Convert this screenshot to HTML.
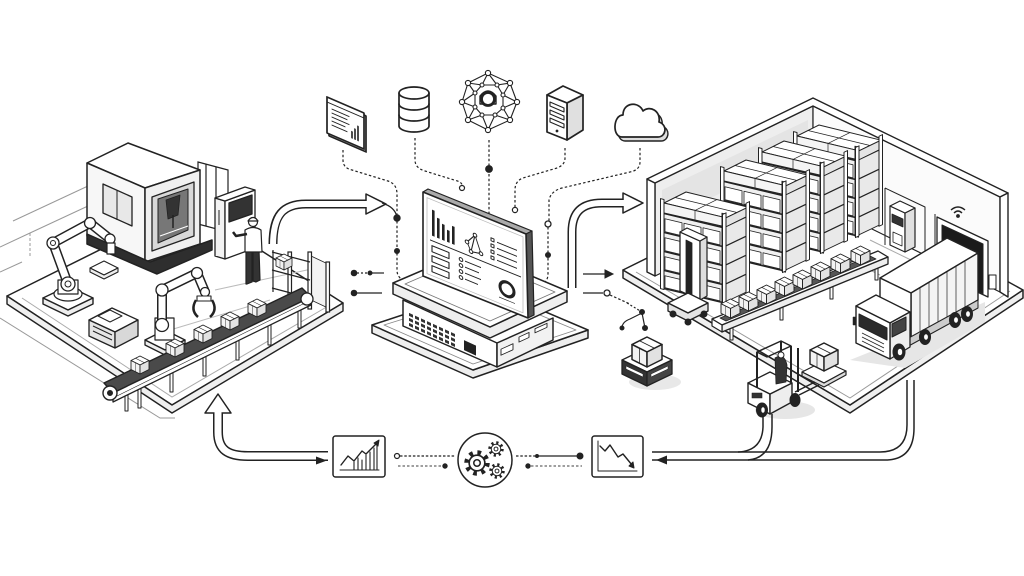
<!DOCTYPE html>
<html><head><meta charset="utf-8">
<style>html,body{margin:0;padding:0;background:#fff}svg{display:block}</style>
</head>
<body>
<svg width="1024" height="576" viewBox="0 0 1024 576" xmlns="http://www.w3.org/2000/svg" font-family="Liberation Sans, sans-serif">
<defs>
 <g id="cube" stroke="#222" stroke-width="1" stroke-linejoin="round">
  <polygon points="0,5 10,0 20,5 10,10" fill="#fff"/>
  <polygon points="0,5 10,10 10,20 0,15" fill="#f3f3f3"/>
  <polygon points="10,10 20,5 20,15 10,20" fill="#e2e2e2"/>
  <line x1="5" y1="2.5" x2="15" y2="7.5" stroke-width="0.6"/>
  <line x1="5" y1="7.5" x2="5" y2="17.5" stroke-width="0.5"/>
 </g>
 <g id="rack" stroke="#222" stroke-linejoin="round">
  <polygon points="2,-10 64,4.8 86,-5.8 24,-21" fill="#fff" stroke-width="1"/>
  <polygon points="2,-10 64,4.8 64,14 2,0" fill="#f4f4f4" stroke-width="1"/>
  <polygon points="64,4.8 86,-5.8 86,3 64,14" fill="#e4e4e4" stroke-width="1"/>
  <line x1="33" y1="-2.6" x2="55" y2="-13.4" stroke-width="0.7"/>
  <line x1="13" y1="-15.5" x2="75" y2="-0.5" stroke-width="0.7"/>
  <line x1="33" y1="-2.6" x2="33" y2="7" stroke-width="0.7"/>
  <g transform="skewY(13.4)">
   <rect x="0" y="0" width="62" height="75" fill="#f0f0f0" stroke-width="1"/>
   <g fill="#fff" stroke-width="0.8">
    <rect x="3" y="5" width="17" height="13"/><rect x="22" y="5" width="17" height="13"/><rect x="41" y="5" width="17" height="13"/>
    <rect x="3" y="24" width="17" height="13"/><rect x="22" y="24" width="17" height="13"/><rect x="41" y="24" width="17" height="13"/>
    <rect x="3" y="43" width="17" height="13"/><rect x="22" y="43" width="17" height="13"/><rect x="41" y="43" width="17" height="13"/>
    <rect x="3" y="62" width="17" height="12"/><rect x="22" y="62" width="17" height="12"/><rect x="41" y="62" width="17" height="12"/>
   </g>
   <g stroke-width="1.6">
    <line x1="0" y1="0" x2="62" y2="0"/><line x1="0" y1="19" x2="62" y2="19"/>
    <line x1="0" y1="38" x2="62" y2="38"/><line x1="0" y1="57" x2="62" y2="57"/>
    <line x1="0" y1="75" x2="62" y2="75"/>
   </g>
   <rect x="-1.5" y="-14" width="3.5" height="90" fill="#fff" stroke-width="1"/>
   <rect x="60" y="-14" width="3.5" height="90" fill="#fff" stroke-width="1"/>
  </g>
  <g transform="translate(62,14.8) skewY(-25.6)">
   <rect x="0" y="0" width="24" height="75" fill="#e9e9e9" stroke-width="1"/>
   <g stroke-width="1.3">
    <line x1="0" y1="19" x2="24" y2="19"/><line x1="0" y1="38" x2="24" y2="38"/><line x1="0" y1="57" x2="24" y2="57"/>
   </g>
   <rect x="22" y="-14" width="3.5" height="90" fill="#fff" stroke-width="1"/>
   <rect x="-1.5" y="-14" width="3.5" height="90" fill="#fff" stroke-width="1"/>
  </g>
 </g>
 <g id="gear">
  <circle r="7.5" fill="none" stroke="#222" stroke-width="3.2" stroke-dasharray="2.6 3.3"/>
  <circle r="5.6" fill="#fff" stroke="#222" stroke-width="1.2"/>
  <circle r="2.3" fill="#fff" stroke="#222" stroke-width="1.1"/>
 </g>
</defs>

<rect width="1024" height="576" fill="#fff"/>

<!-- ================= LEFT FACTORY ================= -->
<g stroke="#999" stroke-width="1" fill="none">
 <path d="M13,221 L88,186"/>
 <path d="M0,247 L30,233 L88,206"/>
 <path d="M30,233 V258" stroke-dasharray="3 2"/>
 <path d="M0,272 L22,262"/>
 <path d="M0,318 L160,418 L175,418"/>
</g>
<polygon points="7,296 172,405 343,303 190,205" fill="#fff" stroke="#222" stroke-width="1.5" stroke-linejoin="round"/>
<polygon points="7,296 172,405 343,303 343,311 172,413 7,304" fill="#efefef" stroke="#222" stroke-width="1.4" stroke-linejoin="round"/>
<polyline points="22,298 172,397 330,305" fill="none" stroke="#aaa" stroke-width="1"/>
<path d="M215,290 L330,265 M170,330 L270,300" stroke="#bbb" stroke-width="1" fill="none"/>

<g stroke="#222" stroke-width="1.2" fill="#fff">
 <polygon points="198,162 228,170 228,232 198,224"/>
 <line x1="206" y1="164" x2="206" y2="226"/><line x1="216" y1="167" x2="216" y2="229"/>
</g>
<g stroke="#222" stroke-width="1.5" stroke-linejoin="round">
 <polygon points="87,163 128,143 200,170 145,188" fill="#fff"/>
 <polygon points="87,163 145,188 145,262 87,236" fill="#f7f7f7"/>
 <polygon points="145,188 200,170 200,244 145,262" fill="#f0f0f0"/>
 <polygon points="87,234 150,262 212,240 212,250 157,274 87,244" fill="#2e2e2e"/>
 <polygon points="103,184 132,197 132,226 103,213" fill="#e8e8e8" stroke-width="1.3"/>
 <line x1="117" y1="190" x2="117" y2="220" stroke-width="1"/>
 <polygon points="152,197 194,182 194,236 152,251" fill="#d8d8d8" stroke-width="1.3"/>
 <polygon points="158,199 188,189 188,230 158,243" fill="#777" stroke-width="1"/>
 <polygon points="166,200 180,195 178,215 168,219" fill="#333" stroke-width="0.8"/>
 <line x1="173" y1="215" x2="173" y2="228" stroke-width="1.5"/>
 <line x1="160" y1="236" x2="188" y2="226" stroke="#fff" stroke-width="1"/>
</g>
<g stroke="#222" stroke-width="1.3" stroke-linejoin="round">
 <polygon points="215,198 225,201 225,259 215,256" fill="#f2f2f2"/>
 <polygon points="225,201 255,190 255,248 225,259" fill="#fff"/>
 <polygon points="215,198 245,187 255,190 225,201" fill="#fff"/>
 <polygon points="229,203 252,195 252,214 229,222" fill="#333"/>
 <line x1="219" y1="210" x2="219" y2="225" stroke-width="1"/>
</g>
<g stroke="#222" stroke-width="1.2" stroke-linejoin="round">
 <polygon points="246,250 252,252 252,282 247,284 246,284" fill="#333"/>
 <polygon points="253,252 259,250 260,280 256,282 253,281" fill="#333"/>
 <path d="M245,230 Q253,225 261,230 L262,252 L245,252 Z" fill="#fff"/>
 <path d="M247,234 L236,236 L233,232" fill="none" stroke-width="2.5"/>
 <circle cx="253" cy="222" r="4.5" fill="#fff"/>
 <path d="M248,221 Q253,214 258,221 Z" fill="#fff"/>
</g>
<g stroke="#222" stroke-linejoin="round">
 <polygon points="43,298 68,286 93,298 68,310" fill="#fff" stroke-width="1.4"/>
 <polygon points="43,298 68,310 93,298 93,304 68,316 43,304" fill="#eee" stroke-width="1.4"/>
 <ellipse cx="68" cy="294" rx="14" ry="7" fill="#fff" stroke-width="1.2"/>
 <rect x="58" y="280" width="20" height="14" fill="#fff" stroke-width="1.2"/>
 <path d="M68,284 L53,243 L90,223 L110,239" fill="none" stroke-width="10" stroke-linecap="round"/>
 <path d="M68,284 L53,243 L90,223 L110,239" fill="none" stroke="#fff" stroke-width="7" stroke-linecap="round"/>
 <circle cx="68" cy="284" r="7" fill="#fff" stroke-width="1.3"/><circle cx="68" cy="284" r="3" fill="#fff" stroke-width="1"/>
 <circle cx="53" cy="243" r="6" fill="#fff" stroke-width="1.3"/><circle cx="53" cy="243" r="2.5" fill="#fff" stroke-width="1"/>
 <circle cx="90" cy="223" r="5.5" fill="#fff" stroke-width="1.3"/>
 <circle cx="110" cy="239" r="5" fill="#fff" stroke-width="1.3"/>
 <rect x="107" y="243" width="8" height="11" fill="#fff" stroke-width="1.2"/>
</g>
<g stroke="#222" stroke-width="1.1" stroke-linejoin="round">
 <polygon points="90,268 104,261 118,268 104,275" fill="#fff"/>
 <polygon points="90,268 104,275 118,268 118,272 104,279 90,272" fill="#eee"/>
</g>
<g stroke="#222" stroke-width="1.3" stroke-linejoin="round">
 <polygon points="89,320 112,308 138,320 115,332" fill="#fff"/>
 <polygon points="89,320 115,332 115,348 89,336" fill="#e5e5e5"/>
 <polygon points="115,332 138,320 138,336 115,348" fill="#d8d8d8"/>
 <path d="M93,326 L112,335 M93,331 L112,340" stroke-width="1"/>
 <polygon points="98,316 110,310 122,316 110,322" fill="#fff" stroke-width="1"/>
</g>
<g stroke="#222" stroke-linejoin="round">
 <polygon points="145,340 165,330 185,340 165,350" fill="#fff" stroke-width="1.4"/>
 <polygon points="145,340 165,350 185,340 185,345 165,355 145,345" fill="#eee" stroke-width="1.3"/>
 <rect x="155" y="318" width="19" height="22" fill="#fff" stroke-width="1.2"/>
 <path d="M162,325 L162,290 L197,273 L205,292" fill="none" stroke-width="10" stroke-linecap="round"/>
 <path d="M162,325 L162,290 L197,273 L205,292" fill="none" stroke="#fff" stroke-width="7" stroke-linecap="round"/>
 <circle cx="162" cy="325" r="6.5" fill="#fff" stroke-width="1.3"/>
 <circle cx="162" cy="290" r="6" fill="#fff" stroke-width="1.3"/>
 <circle cx="197" cy="273" r="5.5" fill="#fff" stroke-width="1.3"/>
 <circle cx="205" cy="292" r="4.5" fill="#fff" stroke-width="1.3"/>
 <path d="M196,300 Q190,310 198,317 M212,300 Q218,310 210,317" fill="none" stroke-width="2.5"/>
 <rect x="197" y="296" width="14" height="5" fill="#fff" stroke-width="1.1"/>
</g>
<g stroke="#222" stroke-width="1.2" fill="none">
 <polygon points="311,256 328,264 328,308 311,300" fill="#f3f3f3" stroke-width="0.8"/>
 <rect x="288" y="252" width="3.5" height="52" fill="#fff"/>
 <rect x="308" y="252" width="3.5" height="57" fill="#fff"/>
 <rect x="326" y="262" width="3.5" height="50" fill="#fff"/>
 <path d="M272,252 L310,262 M272,270 L310,280 M272,288 L310,298"/>
 <line x1="273" y1="250" x2="273" y2="292"/>
 <use href="#cube" transform="translate(276,254) scale(0.8)"/>
</g>
<g stroke="#222" stroke-linejoin="round">
 <g fill="#fff" stroke-width="1">
  <rect x="138" y="388" width="3" height="20"/><rect x="170" y="372" width="3" height="20"/>
  <rect x="203" y="356" width="3" height="20"/><rect x="236" y="340" width="3" height="20"/>
  <rect x="268" y="325" width="3" height="20"/><rect x="298" y="310" width="3" height="18"/>
  <rect x="125" y="395" width="3" height="16"/>
 </g>
 <polygon points="104,383 302,288 311,297 113,393" fill="#4a4a4a" stroke-width="1.4"/>
 <polygon points="113,393 311,297 311,305 113,402" fill="#fff" stroke-width="1.3"/>
 <line x1="115" y1="397" x2="309" y2="301" stroke-width="0.6"/>
 <circle cx="110" cy="393" r="7" fill="#fff" stroke-width="1.4"/>
 <circle cx="110" cy="393" r="2.5" fill="#222"/>
 <circle cx="307" cy="299" r="6" fill="#fff" stroke-width="1.3"/>
</g>
<use href="#cube" transform="translate(131,356) scale(0.9)"/>
<use href="#cube" transform="translate(166,339) scale(0.9)"/>
<use href="#cube" transform="translate(194,325) scale(0.9)"/>
<use href="#cube" transform="translate(221,312) scale(0.9)"/>
<use href="#cube" transform="translate(248,299) scale(0.9)"/>

<!-- ================= ARROWS ================= -->
<g fill="none" stroke-linecap="butt">
 <path d="M273,244 C273,215 283,204 306,204 L368,204" stroke="#222" stroke-width="9"/>
 <path d="M273,246 C273,215 283,204 306,204 L369,204" stroke="#fff" stroke-width="6"/>
 <path d="M572,288 L572,232 C572,212 582,203 602,203 L625,203" stroke="#222" stroke-width="9"/>
 <path d="M572,290 L572,232 C572,212 582,203 602,203 L626,203" stroke="#fff" stroke-width="6"/>
 <path d="M218,413 L218,432 C218,450 228,456 248,456 L328,456" stroke="#222" stroke-width="10"/>
 <path d="M218,411 L218,432 C218,450 228,456 248,456 L330,456" stroke="#fff" stroke-width="7"/>
</g>
<polygon points="366,194 386,204 366,214" fill="#fff" stroke="#222" stroke-width="1.5" stroke-linejoin="round"/>
<line x1="364" y1="204" x2="368" y2="204" stroke="#fff" stroke-width="6"/>
<polygon points="623,193 643,203 623,213" fill="#fff" stroke="#222" stroke-width="1.5" stroke-linejoin="round"/>
<line x1="621" y1="203" x2="625" y2="203" stroke="#fff" stroke-width="6"/>
<polygon points="205,413 218,394 231,413" fill="#fff" stroke="#222" stroke-width="1.5" stroke-linejoin="round"/>
<line x1="218" y1="411" x2="218" y2="415" stroke="#fff" stroke-width="7"/>
<polygon points="316,456.5 327,460.5 316,464.5" fill="#222"/>
<path d="M382,203 Q395,207 397,217" fill="none" stroke="#222" stroke-width="1.2"/>

<!-- ================= TOP ICONS ================= -->
<g stroke="#222" stroke-width="1.7" fill="#fff" stroke-linejoin="round" stroke-linecap="round">
 <g transform="translate(327,97) skewY(23.4)">
  <rect x="2" y="2" width="37" height="36" fill="#cfcfcf"/>
  <rect x="0" y="0" width="37" height="36"/>
  <line x1="0" y1="5" x2="37" y2="5" stroke-width="1"/>
  <g stroke-width="1"><line x1="5" y1="10" x2="22" y2="10"/><line x1="5" y1="14" x2="20" y2="14"/><line x1="5" y1="18" x2="22" y2="18"/><line x1="5" y1="22" x2="18" y2="22"/><line x1="5" y1="26" x2="20" y2="26"/></g>
  <g stroke-width="1.6"><line x1="25" y1="30" x2="25" y2="24"/><line x1="28" y1="30" x2="28" y2="20"/><line x1="31" y1="30" x2="31" y2="16"/></g>
 </g>
 <path d="M399,93 V126 A15,6 0 0 0 429,126 V93"/>
 <ellipse cx="414" cy="93" rx="15" ry="6"/>
 <path d="M399,104 A15,6 0 0 0 429,104 M399,115 A15,6 0 0 0 429,115" fill="none"/>
 <g stroke-width="1.1" fill="none">
  <polygon points="488,73 510,83 517,102 510,120 488,130 468,120 462,102 468,83"/>
  <polygon points="482,85 497,85 503,95 503,108 495,115 482,115 475,107 475,93"/>
  <path d="M488,73 L482,85 M488,73 L497,85 M510,83 L497,85 M510,83 L503,95 M517,102 L503,95 M517,102 L503,108 M510,120 L503,108 M510,120 L495,115 M488,130 L495,115 M488,130 L482,115 M468,120 L482,115 M468,120 L475,107 M462,102 L475,107 M462,102 L475,93 M468,83 L475,93 M468,83 L482,85"/>
 </g>
 <g stroke-width="1.1">
  <circle cx="488" cy="73" r="2.6"/><circle cx="510" cy="83" r="2.6"/><circle cx="517" cy="102" r="2.6"/><circle cx="510" cy="120" r="2.6"/>
  <circle cx="488" cy="130" r="2.6"/><circle cx="468" cy="120" r="2.6"/><circle cx="462" cy="102" r="2.6"/><circle cx="468" cy="83" r="2.6"/>
  <circle cx="482" cy="85" r="2"/><circle cx="497" cy="85" r="2"/><circle cx="503" cy="95" r="2"/><circle cx="503" cy="108" r="2"/>
  <circle cx="495" cy="115" r="2"/><circle cx="482" cy="115" r="2"/><circle cx="475" cy="107" r="2"/><circle cx="475" cy="93" r="2"/>
 </g>
 <path d="M480,96 Q488,86 496,96 L496,104 L480,104 Z" stroke-width="1.4"/>
 <circle cx="488" cy="99" r="6.5" stroke-width="2.8"/>
 <polygon points="547,95 563,86 583,95 567,103"/>
 <polygon points="567,103 583,95 583,130 567,140" fill="#e0e0e0"/>
 <polygon points="547,95 567,103 567,140 547,132"/>
 <g stroke-width="1.1"><polygon points="550,102 564,108 564,112 550,106"/><polygon points="550,110 564,116 564,120 550,114"/><polygon points="550,118 564,124 564,128 550,122"/></g>
 <circle cx="557" cy="131" r="1.2" fill="#222" stroke-width="0.5"/>
 <path d="M625,141 H661 C669,141 671,129 662,126 C664,115 653,109 646,115 C642,105 626,106 626,119 C616,119 615,141 625,141 Z" fill="#ddd" stroke-width="1.4"/>
 <path d="M622,137 H658 C666,137 668,125 659,122 C661,111 650,105 643,111 C639,101 623,102 623,115 C613,115 612,137 622,137 Z"/>
</g>

<g fill="none" stroke="#222" stroke-width="1.2" stroke-dasharray="2.5 2.2">
 <path d="M343,150 V160 Q343,168 352,170 L388,181 Q397,184 397,194 V215"/>
 <path d="M397,221 V248"/>
 <path d="M397,253 V270 Q397,278 405,281"/>
 <path d="M415,138 V160 Q415,168 425,171 L454,180 Q462,182 462,185"/>
 <path d="M489,140 V166"/>
 <path d="M489,174 V214"/>
 <path d="M565,148 V158 Q565,165 557,168 L523,178 Q515,181 515,190 V207"/>
 <path d="M640,148 V162 Q640,170 630,172 L562,188 Q551,191 549,200 V221"/>
 <path d="M548,227 V252"/>
 <path d="M548,258 V274 Q548,281 542,284"/>
</g>
<g stroke="#222">
 <circle cx="397" cy="218" r="3.2" fill="#222"/>
 <circle cx="397" cy="251" r="2.5" fill="#222"/>
 <circle cx="462" cy="188" r="2.5" fill="#fff" stroke-width="1.2"/>
 <circle cx="489" cy="169" r="3.4" fill="#222"/>
 <circle cx="515" cy="210" r="2.6" fill="#fff" stroke-width="1.2"/>
 <circle cx="548" cy="224" r="3" fill="#fff" stroke-width="1.3"/>
 <circle cx="548" cy="255" r="2.5" fill="#222"/>
</g>

<g stroke="#222" stroke-width="1.2" fill="none">
 <path d="M357,273 H368" stroke-dasharray="2 2"/>
 <path d="M370,273 H384"/>
 <path d="M357,293 H382"/>
 <path d="M583,274 H606"/>
 <path d="M583,293 H603"/>
 <path d="M610,295 L630,304" stroke-dasharray="2.5 2"/>
 <path d="M642,313 L630,319 Q622,322 622,328 M642,313 L645,328"/>
 <path d="M627,303 L642,312" stroke-dasharray="2 2"/>
</g>
<g stroke="#222">
 <circle cx="354" cy="273" r="2.8" fill="#222"/>
 <circle cx="370" cy="273" r="2" fill="#222"/>
 <circle cx="354" cy="293" r="2.8" fill="#222"/>
 <polygon points="605,270 613,274 605,278" fill="#222"/>
 <circle cx="607" cy="293" r="3" fill="#fff" stroke-width="1.3"/>
 <circle cx="642" cy="312" r="2.5" fill="#222"/>
 <circle cx="622" cy="328" r="2" fill="#222"/>
 <circle cx="645" cy="328" r="2.5" fill="#222"/>
</g>

<!-- ================= CENTER HUB ================= -->
<g stroke="#222" stroke-linejoin="round">
 <polygon points="372,325 473,370 588,330 588,338 473,378 372,333" fill="#eee" stroke-width="1.5"/>
 <polygon points="372,325 473,370 588,330 487,287" fill="#fff" stroke-width="1.5"/>
 <polygon points="384,325 473,364 576,330 487,293" fill="none" stroke="#888" stroke-width="0.9"/>
 <polygon points="403,300 497,343 497,367 403,326" fill="#fff" stroke-width="1.5"/>
 <polygon points="497,343 553,318 553,340 497,367" fill="#f2f2f2" stroke-width="1.5"/>
 <g transform="translate(407,310) skewY(24.6)" fill="#333" stroke="none">
  <rect x="2" y="2" width="4" height="3"/><rect x="8" y="2" width="4" height="3"/><rect x="14" y="2" width="4" height="3"/><rect x="20" y="2" width="4" height="3"/><rect x="26" y="2" width="4" height="3"/><rect x="32" y="2" width="4" height="3"/><rect x="38" y="2" width="4" height="3"/><rect x="44" y="2" width="4" height="3"/>
  <rect x="2" y="7" width="4" height="3"/><rect x="8" y="7" width="4" height="3"/><rect x="14" y="7" width="4" height="3"/><rect x="20" y="7" width="4" height="3"/><rect x="26" y="7" width="4" height="3"/><rect x="32" y="7" width="4" height="3"/><rect x="38" y="7" width="4" height="3"/><rect x="44" y="7" width="4" height="3"/>
  <rect x="2" y="12" width="4" height="3"/><rect x="8" y="12" width="4" height="3"/><rect x="14" y="12" width="4" height="3"/><rect x="20" y="12" width="4" height="3"/><rect x="26" y="12" width="4" height="3"/><rect x="32" y="12" width="4" height="3"/><rect x="38" y="12" width="4" height="3"/><rect x="44" y="12" width="4" height="3"/>
  <rect x="57" y="4" width="12" height="10" fill="#222"/>
 </g>
 <g transform="translate(497,343) skewY(-24.4)" stroke-width="0.9" fill="#fff">
  <rect x="4" y="8" width="12" height="6"/><rect x="22" y="4" width="10" height="5"/><rect x="38" y="3" width="12" height="4"/>
 </g>
 <polygon points="393,283 490,327 567,291 567,302 490,338 393,294" fill="#eee" stroke-width="1.5"/>
 <polygon points="393,283 490,327 567,291 470,250" fill="#fff" stroke-width="1.5"/>
 <polygon points="405,284 490,321 555,292 470,256" fill="none" stroke="#777" stroke-width="0.9"/>
 <polygon points="423,192 428,189 532,231 526,234" fill="#aaa" stroke-width="1.2"/>
 <polygon points="526,234 532,231 534,315 528,318" fill="#555" stroke-width="1.2"/>
 <polygon points="423,192 526,234 528,318 423,276" fill="#fff" stroke-width="1.6"/>
 <g transform="translate(423,192) skewY(22.2)">
  <rect x="4" y="4" width="96" height="76" fill="none" stroke="#bbb" stroke-width="0.8"/>
  <g fill="#222" stroke="none">
   <rect x="9" y="14" width="2.6" height="26"/><rect x="14" y="20" width="2.6" height="20"/><rect x="19" y="24" width="2.6" height="16"/><rect x="24" y="28" width="2.6" height="12"/><rect x="29" y="22" width="2.6" height="18"/>
  </g>
  <line x1="7" y1="45" x2="98" y2="45" stroke="#222" stroke-width="1"/>
  <g stroke="#222" stroke-width="1" fill="#fff">
   <path d="M44,32 L52,22 L58,38 L48,40 Z M52,22 L48,40"/>
   <circle cx="44" cy="32" r="1.8"/><circle cx="52" cy="22" r="1.8"/><circle cx="58" cy="38" r="1.8"/><circle cx="48" cy="40" r="1.8"/>
   <rect x="9" y="50" width="17" height="6" stroke-width="1.1"/><rect x="9" y="60" width="17" height="6" stroke-width="1.1"/><rect x="9" y="70" width="17" height="6" stroke-width="1.1"/>
   <circle cx="38" cy="52" r="1.8"/><circle cx="38" cy="58" r="1.8"/><circle cx="38" cy="64" r="1.8"/><circle cx="38" cy="70" r="1.8"/>
   <line x1="42" y1="52" x2="58" y2="52"/><line x1="42" y1="58" x2="56" y2="58"/><line x1="42" y1="64" x2="58" y2="64"/><line x1="42" y1="70" x2="55" y2="70"/>
   <line x1="74" y1="20" x2="94" y2="20"/><line x1="74" y1="26" x2="94" y2="26"/><line x1="74" y1="32" x2="94" y2="32"/><line x1="74" y1="38" x2="94" y2="38"/>
   <rect x="68" y="18" width="3" height="3"/><rect x="68" y="24" width="3" height="3"/><rect x="68" y="30" width="3" height="3"/><rect x="68" y="36" width="3" height="3"/>
   <circle cx="84" cy="63" r="7" fill="none" stroke-width="3"/>
   <line x1="76" y1="74" x2="92" y2="74" stroke-width="0.7"/>
  </g>
 </g>
</g>

<!-- ================= WAREHOUSE ================= -->
<g stroke="#222" stroke-linejoin="round">
 <polygon points="623,270 850,405 1023,290 1023,298 850,413 623,278" fill="#efefef" stroke-width="1.5"/>
 <polygon points="623,270 850,405 1023,290 815,175" fill="#fff" stroke-width="1.5"/>
 <polyline points="636,272 850,398 1010,291" fill="none" stroke="#999" stroke-width="1"/>
 <polygon points="655,183 813,106 813,200 655,276" fill="#eeeeee" stroke-width="1.2"/>
 <polygon points="813,106 1000,197 1000,292 813,200" fill="#fbfbfb" stroke-width="1.2"/>
 <polygon points="647,179 655,183 655,276 647,272" fill="#fff" stroke-width="1.4"/>
 <polygon points="647,179 813,98 1008,193 1000,197 813,106 655,183" fill="#fff" stroke-width="1.4"/>
 <polygon points="1000,197 1008,193 1008,297 1000,292" fill="#fff" stroke-width="1.4"/>
 <line x1="813" y1="106" x2="813" y2="200" stroke-width="1"/>
 <polygon points="662,190 808,120 808,150 662,222" fill="#e4e4e4" stroke="none"/>
 <polygon points="937,217 988,241 988,297 937,273" fill="#fff" stroke-width="1.3"/>
 <polygon points="942,225 983,244 983,294 942,275" fill="#1b1b1b" stroke-width="1"/>
 <path d="M951,210 Q958,204 965,210 M954,213 Q958,209 962,213" fill="none" stroke-width="1.4"/>
 <circle cx="958" cy="216" r="1.4" fill="#222"/>
 <rect x="989" y="275" width="7" height="14" fill="#fff" stroke-width="1"/>
 <path d="M885,188 L925,207 L925,258 M885,188 V245 M935,214 V268" fill="none" stroke-width="1"/>
 <polygon points="890,206 905,213 905,252 890,245" fill="#fff" stroke-width="1.2"/>
 <polygon points="905,213 915,208 915,247 905,252" fill="#e0e0e0" stroke-width="1.2"/>
 <polygon points="890,206 900,201 915,208 905,213" fill="#fff" stroke-width="1.2"/>
 <polygon points="892,214 903,219 903,227 892,222" fill="#333" stroke-width="0.8"/>
 <polygon points="893,232 902,236 902,246 893,242" fill="#fff" stroke-width="0.8"/>
 <path d="M870,240 L915,262 M840,255 L880,275" fill="none" stroke="#aaa" stroke-width="1"/>
</g>
<use href="#rack" transform="translate(795,146)"/>
<use href="#rack" transform="translate(760,162)"/>
<use href="#rack" transform="translate(722,181)"/>
<use href="#rack" transform="translate(662,213)"/>
<g stroke="#222" stroke-linejoin="round">
 <polygon points="680,232 700,241 700,300 680,291" fill="#fff" stroke-width="1.3"/>
 <polygon points="700,241 707,237 707,296 700,300" fill="#ddd" stroke-width="1.2"/>
 <polygon points="680,232 687,228 707,237 700,241" fill="#fff" stroke-width="1.2"/>
 <polygon points="686,240 692,243 692,296 686,293" fill="#222" stroke-width="0.8"/>
 <polygon points="668,303 688,293 708,303 688,313" fill="#fff" stroke-width="1.3"/>
 <polygon points="668,303 688,313 708,303 708,311 688,321 668,311" fill="#e4e4e4" stroke-width="1.3"/>
 <circle cx="673" cy="314" r="3" fill="#222"/><circle cx="688" cy="322" r="3" fill="#222"/><circle cx="704" cy="314" r="3" fill="#222"/>
</g>
<g stroke="#222" stroke-linejoin="round">
 <g fill="#fff" stroke-width="1"><rect x="730" y="326" width="3" height="14"/><rect x="780" y="306" width="3" height="14"/><rect x="830" y="285" width="3" height="14"/><rect x="875" y="266" width="3" height="14"/></g>
 <polygon points="712,319 878,251 888,257 722,325" fill="#fff" stroke-width="1.3"/>
 <polygon points="722,325 888,257 888,264 722,332" fill="#eee" stroke-width="1.3"/>
 <polygon points="712,319 722,325 722,332 712,326" fill="#fff" stroke-width="1.2"/>
 <polygon points="720,318 870,256 876,259 726,321" fill="#555" stroke-width="0.8"/>
</g>
<use href="#cube" transform="translate(721,299) scale(0.95)"/>
<use href="#cube" transform="translate(739,292) scale(0.95)"/>
<use href="#cube" transform="translate(757,285) scale(0.95)"/>
<use href="#cube" transform="translate(775,277) scale(0.95)"/>
<use href="#cube" transform="translate(793,270) scale(0.95)"/>
<use href="#cube" transform="translate(811,262) scale(0.95)"/>
<use href="#cube" transform="translate(831,254) scale(0.95)"/>
<use href="#cube" transform="translate(851,246) scale(0.95)"/>

<polygon points="850,360 905,368 985,322 985,302 900,340" fill="#e6e6e6"/>
<g stroke="#222" stroke-linejoin="round">
 <polygon points="880,278 947,238 978,253 911,293" fill="#fff" stroke-width="1.4"/>
 <polygon points="911,293 978,253 978,300 911,340" fill="#f4f4f4" stroke-width="1.4"/>
 <polygon points="880,278 911,293 911,340 880,325" fill="#fff" stroke-width="1.4"/>
 <g stroke-width="0.7"><line x1="920" y1="288" x2="920" y2="335"/><line x1="929" y1="282" x2="929" y2="330"/><line x1="938" y1="277" x2="938" y2="324"/><line x1="947" y1="272" x2="947" y2="319"/><line x1="956" y1="266" x2="956" y2="313"/><line x1="965" y1="261" x2="965" y2="308"/></g>
 <polygon points="905,340 978,300 978,308 905,348" fill="#ccc" stroke-width="1"/>
 <polygon points="856,306 876,295 910,312 890,323" fill="#fff" stroke-width="1.3"/>
 <polygon points="890,323 910,312 910,347 890,359" fill="#eee" stroke-width="1.3"/>
 <polygon points="856,306 890,323 890,359 856,343" fill="#fff" stroke-width="1.4"/>
 <polygon points="859,314 887,328 887,340 859,326" fill="#2a2a2a" stroke-width="1"/>
 <polygon points="892,324 906,317 906,330 892,337" fill="#444" stroke-width="1"/>
 <g stroke-width="0.8" fill="none"><path d="M862,333 L884,344 M862,337 L884,348 M862,341 L884,352"/></g>
 <rect x="853" y="317" width="3" height="8" fill="#222" stroke-width="0.5"/>
 <ellipse cx="899" cy="352" rx="6" ry="8" fill="#222"/><ellipse cx="900" cy="352" rx="2.5" ry="3.5" fill="#fff" stroke-width="0.5"/>
 <ellipse cx="925" cy="337" rx="5.5" ry="7.5" fill="#222"/><ellipse cx="926" cy="337" rx="2.2" ry="3" fill="#fff" stroke-width="0.5"/>
 <ellipse cx="955" cy="320" rx="5.5" ry="7.5" fill="#222"/><ellipse cx="956" cy="320" rx="2.2" ry="3" fill="#fff" stroke-width="0.5"/>
 <ellipse cx="967" cy="314" rx="5.5" ry="7.5" fill="#222"/><ellipse cx="968" cy="314" rx="2.2" ry="3" fill="#fff" stroke-width="0.5"/>
</g>

<ellipse cx="655" cy="382" rx="26" ry="8" fill="#e8e8e8"/>
<g stroke="#222" stroke-linejoin="round">
 <polygon points="622,360 647,348 672,360 647,372" fill="#fff" stroke-width="1.3"/>
 <polygon points="622,360 647,372 647,386 622,374" fill="#333" stroke-width="1.3"/>
 <polygon points="647,372 672,360 672,374 647,386" fill="#444" stroke-width="1.3"/>
 <polygon points="626,366 643,374 643,377 626,369" fill="#fff" stroke-width="0.5"/>
 <polygon points="651,374 668,366 668,369 651,377" fill="#fff" stroke-width="0.5"/>
</g>
<use href="#cube" transform="translate(632,337) scale(1.5)"/>

<ellipse cx="785" cy="410" rx="30" ry="9" fill="#e6e6e6"/>
<g stroke="#222" stroke-linejoin="round">
 <polygon points="802,372 824,383 846,371 824,361" fill="#fff" stroke-width="1.2"/>
 <polygon points="802,372 824,383 846,371 846,375 824,387 802,376" fill="#ddd" stroke-width="1.2"/>
 <path d="M795,392 L815,382 M799,395 L819,385" stroke-width="1.5" fill="none"/>
 <polygon points="748,383 770,394 770,414 748,403" fill="#fff" stroke-width="1.4"/>
 <polygon points="770,394 792,383 792,402 770,414" fill="#eee" stroke-width="1.4"/>
 <polygon points="748,383 770,372 792,383 770,394" fill="#fff" stroke-width="1.3"/>
 <rect x="752" y="393" width="10" height="5" fill="#333" stroke-width="0.6"/>
 <path d="M757,388 V352 M781,376 V341 M791,382 V346 M798,392 V348" stroke-width="2" fill="none"/>
 <polygon points="757,352 781,341 791,346 767,357" fill="none" stroke-width="1.5"/>
 <path d="M775,358 Q784,352 787,365 L786,382 L776,384 Z" fill="#333" stroke-width="0.8"/>
 <circle cx="781" cy="355" r="3" fill="#fff" stroke-width="1"/>
 <ellipse cx="762" cy="410" rx="5.5" ry="7" fill="#222"/><ellipse cx="763" cy="410" rx="2" ry="3" fill="#fff" stroke-width="0.5"/>
 <ellipse cx="795" cy="400" rx="5" ry="6.5" fill="#222"/>
</g>
<use href="#cube" transform="translate(810,343) scale(1.4)"/>

<!-- ================= BOTTOM FLOW ================= -->
<g fill="none" stroke="#222" stroke-width="1.5">
 <path d="M652,452 H880 Q907,452 907,425 V380"/>
 <path d="M652,460 H885 Q914,460 914,428 V380"/>
 <path d="M738,452 Q762,451 763,427 V416"/>
 <path d="M748,460 Q772,458 772,427 V414"/>
</g>
<polygon points="656,460 667,455.5 667,464.5" fill="#222"/>

<g stroke="#222" stroke-linejoin="round" stroke-linecap="round">
 <rect x="333" y="436" width="52" height="41" rx="2.5" fill="#fff" stroke-width="1.5"/>
 <line x1="340" y1="470" x2="379" y2="470" stroke-width="1"/>
 <g stroke-width="1.1"><line x1="354" y1="470" x2="354" y2="462"/><line x1="358" y1="470" x2="358" y2="458"/><line x1="362" y1="470" x2="362" y2="460"/><line x1="366" y1="470" x2="366" y2="455"/><line x1="370" y1="470" x2="370" y2="452"/><line x1="374" y1="470" x2="374" y2="448"/><line x1="377" y1="470" x2="377" y2="445"/></g>
 <polyline points="341,465 348,456 354,461 362,451 366,454 378,442" fill="none" stroke-width="1.4"/>
 <polygon points="379,440 378,446 374,443" fill="#222" stroke-width="1"/>
 <rect x="592" y="436" width="51" height="41" rx="2.5" fill="#fff" stroke-width="1.5"/>
 <polyline points="598,441 598,471 637,471" fill="none" stroke-width="1"/>
 <polyline points="600,446 605,451 610,445 618,457 623,454 632,465" fill="none" stroke-width="1.4"/>
 <polygon points="634,468 629,466 633,462" fill="#222" stroke-width="1"/>
</g>
<g stroke="#222" stroke-width="1.2" fill="none">
 <path d="M400,456 H455" stroke-dasharray="2.5 1.8"/>
 <path d="M398,466 H443" stroke-dasharray="2.5 2" stroke="#666"/>
 <path d="M516,456 H535" stroke-dasharray="2.5 1.8"/>
 <path d="M537,456 H578"/>
 <path d="M531,466 H582" stroke-dasharray="2.5 2" stroke="#666"/>
</g>
<g stroke="#222">
 <circle cx="397" cy="456" r="2.5" fill="#fff" stroke-width="1.2"/>
 <circle cx="445" cy="466" r="2.2" fill="#222"/>
 <circle cx="537" cy="456" r="1.5" fill="#222"/>
 <circle cx="580" cy="456" r="3" fill="#222"/>
 <circle cx="528" cy="466" r="2.2" fill="#222"/>
</g>
<circle cx="485" cy="460" r="27" fill="#fff" stroke="#222" stroke-width="1.5"/>
<use href="#gear" transform="translate(477,463) scale(1.4)"/>
<use href="#gear" transform="translate(496,449) scale(0.85)"/>
<use href="#gear" transform="translate(497,471) scale(0.85)"/>
</svg>
</body>
</html>
